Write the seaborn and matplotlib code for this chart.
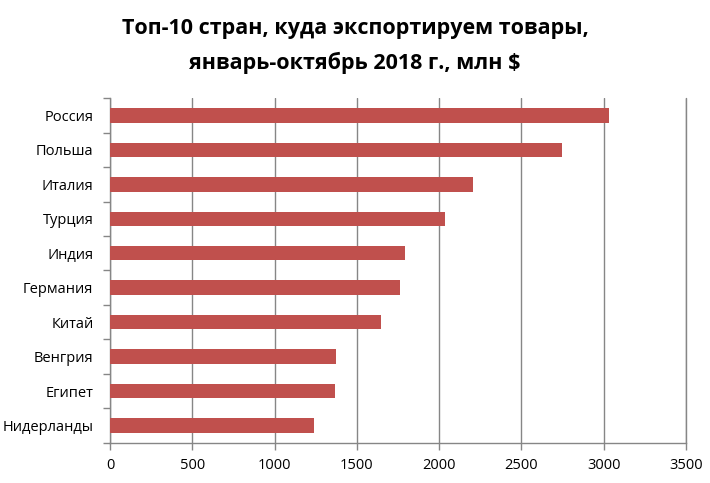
import seaborn as sns
import matplotlib.pyplot as plt
import numpy as np
import pandas as pd

# Data
countries = ["Россия", "Польша", "Италия", "Турция", "Индия",
             "Германия", "Китай", "Венгрия", "Египет", "Нидерланды"]
export_mln = [3030, 2745, 2205, 2035, 1793, 1763, 1647, 1372, 1368, 1240]
x_ticks = [0, 500, 1000, 1500, 2000, 2500, 3000, 3500]

df = pd.DataFrame({"country": countries, "value": export_mln})

sns.set_theme(style="white")
plt.rcParams["font.family"] = ["Open Sans", "DejaVu Sans"]
plt.rcParams["text.color"] = "black"
plt.rcParams["xtick.color"] = "#868686"
plt.rcParams["ytick.color"] = "#868686"
plt.rcParams["xtick.labelcolor"] = "black"
plt.rcParams["ytick.labelcolor"] = "black"

fig = plt.figure(figsize=(7.1, 4.83), dpi=100)
ax = fig.add_axes([0.155, 0.083, 0.811, 0.714])

sns.barplot(data=df, x="value", y="country", color="#C0504D",
            width=0.42, saturation=1, linewidth=0, ax=ax, zorder=3)

ax.set_xlim(0, 3500)
ax.set_xticks(x_ticks)
ax.set_xticklabels([str(t) for t in x_ticks], fontsize=10.5)
ax.set_ylim(len(countries) - 0.5, -0.5)
ax.tick_params(axis="y", which="major", labelsize=10.5, length=0, pad=12)
ax.set_yticks(np.arange(len(countries) + 1) - 0.5, minor=True)
ax.yaxis.set_tick_params(which="minor", left=True, length=5, width=1,
                         color="#868686", direction="out")
ax.tick_params(axis="x", length=5, width=1, color="#868686", direction="out",
               bottom=True, pad=6)
ax.set_xlabel("")
ax.set_ylabel("")

ax.grid(axis="x", color="#868686", linewidth=1, zorder=0)
ax.axvline(3500, color="#868686", linewidth=1, clip_on=False, zorder=0)
ax.set_axisbelow(True)
for side in ["top", "right"]:
    ax.spines[side].set_visible(False)
for side in ["left", "bottom"]:
    ax.spines[side].set_color("#868686")
    ax.spines[side].set_linewidth(1)

fig.suptitle("Топ-10 стран, куда экспортируем товары,\nянварь-октябрь 2018 г., млн $",
             fontsize=15.5, fontweight="bold", y=0.962, linespacing=1.75,
             color="black")

plt.savefig("out.png", dpi=100)
